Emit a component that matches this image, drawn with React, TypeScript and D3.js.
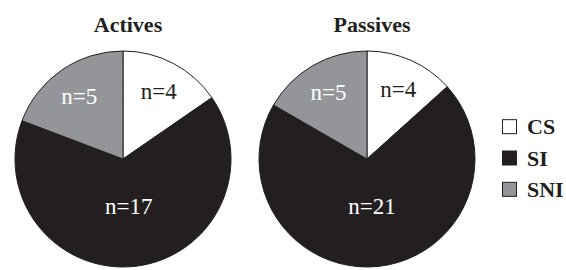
import * as d3 from "d3";
import React from "react";

const categories = ["CS", "SI", "SNI"];
const groups = ["Actives", "Passives"];
const activesValues = [4, 17, 5];
const passivesValues = [4, 21, 5];
const colors = ["#ffffff", "#231f20", "#939598"];
const textColors = ["#231f20", "#ffffff", "#ffffff"];

const width = 566;
const height = 270;
const radius = 108;
const cy = 159;
const centers = d3.scalePoint<string>().domain(groups).range([123, 367]);
const font = "Liberation Serif";

function Pie({ title, values }: { title: string; values: number[] }) {
  const cx = centers(title) as number;
  const pie = d3.pie<number>().sort(null).value((d) => d);
  const arcs = pie(values);
  const arc = d3.arc<d3.PieArcDatum<number>>().innerRadius(0).outerRadius(radius);
  const total = d3.sum(values);
  return (
    <g>
      <text x={cx + 5} y={32} textAnchor="middle" fontFamily={font} fontWeight="bold" fontSize={22} fill="#231f20">
        {title}
      </text>
      <g transform={`translate(${cx},${cy})`}>
        {arcs.map((a, i) => (
          <path key={i} d={arc(a) || ""} fill={colors[i]} stroke="#231f20" strokeWidth={1} />
        ))}
        {arcs.map((a, i) => {
          // the big slice has its label nearer the middle
          const big = a.value / total > 0.5;
          const lr = big ? 47 : 77;
          const [x, y] = d3.arc<d3.PieArcDatum<number>>().innerRadius(lr).outerRadius(lr).centroid(a);
          return (
            <text key={"t" + i} x={x} y={y} dy="0.35em" textAnchor="middle" fontFamily={font} fontSize={23} fill={textColors[i]}>
              {`n=${a.value}`}
            </text>
          );
        })}
      </g>
    </g>
  );
}

export default function App() {
  const legendY = d3.scaleBand<string>().domain(categories).range([111, 205]);
  return (
    <svg width={width} height={height} style={{ position: "absolute", left: 0, top: 0, background: "#fff" }}>
      <Pie title="Actives" values={activesValues} />
      <Pie title="Passives" values={passivesValues} />
      <g>
        {categories.map((c, i) => {
          const y = (legendY(c) as number) + legendY.bandwidth() / 2;
          return (
            <g key={c}>
              <rect x={502.5} y={y - 7} width={14} height={14} fill={colors[i]} stroke="#231f20" strokeWidth={1} />
              <text x={527} y={y} dy="0.35em" fontFamily={font} fontWeight="bold" fontSize={22} fill="#231f20">
                {c}
              </text>
            </g>
          );
        })}
      </g>
    </svg>
  );
}
